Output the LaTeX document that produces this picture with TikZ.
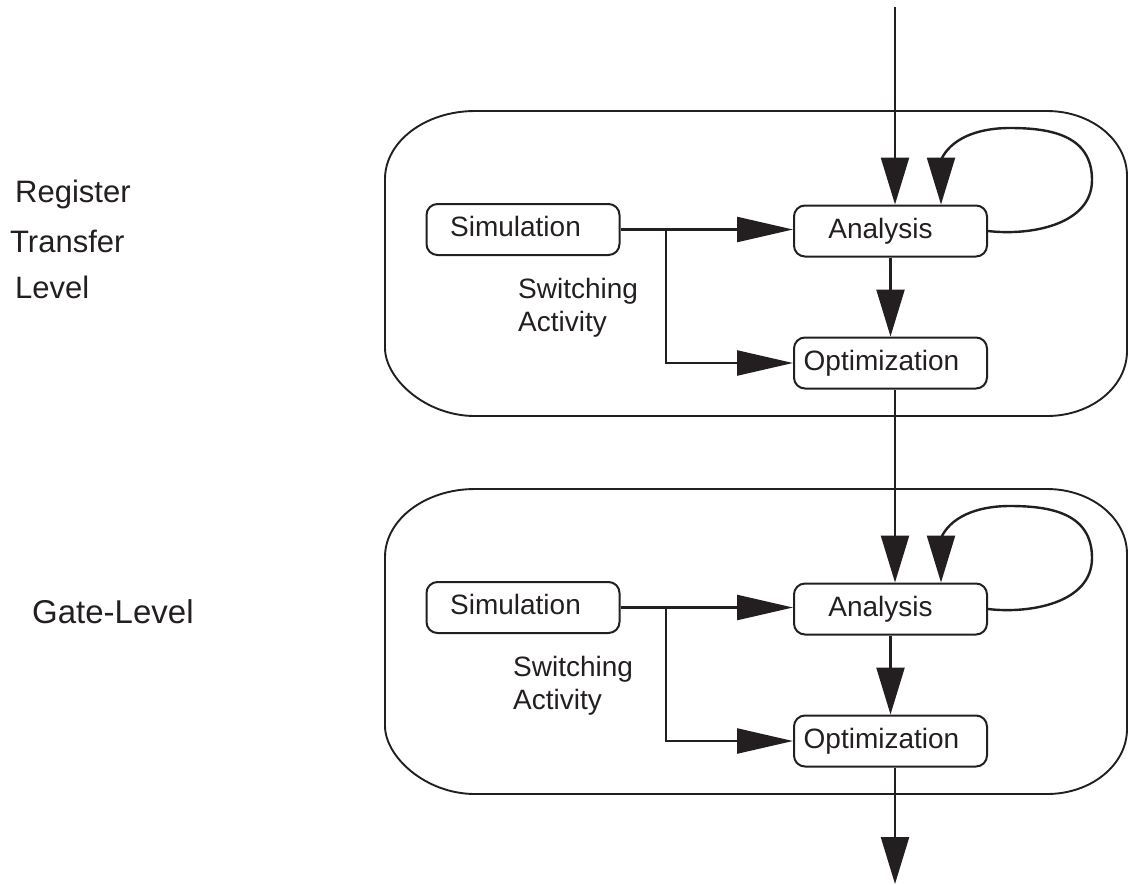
\documentclass[tikz,border=0pt]{standalone}
\usepackage{fontspec}
\setmainfont{Liberation Sans}
\usetikzlibrary{arrows.meta}
\definecolor{ink}{HTML}{231F20}

\begin{document}
\begin{tikzpicture}[x=1pt,y=-1pt, color=ink,
  stage/.style={draw, line width=2pt, rounded corners=11pt, minimum width=193pt,
                minimum height=51pt, inner sep=0pt, text height=20pt, text depth=6pt,
                font=\fontsize{28}{30}\selectfont},
  frame/.style={draw, line width=1.9pt},
  flow/.style={line width=2.4pt},
  vhead/.style={-{Triangle[length=47pt,width=28pt]}},
  hhead/.style={-{Triangle[length=56pt,width=25pt]}},
  note/.style={anchor=base west, inner sep=0pt, font=\fontsize{28}{30}\selectfont},
  level/.style={anchor=base west, inner sep=0pt, font=\fontsize{31}{34}\selectfont}]

\useasboundingbox (0,0) rectangle (1129,884);

% entry and exit points of the flow
\coordinate (in) at (895,7);
\coordinate (out) at (895,884);

\foreach \lv/\dy/\sx in {1/0/518, 2/378/513}{
  % level frame with elliptic corners
  \draw[frame] (475,{111+\dy}) -- (1047,{111+\dy})
     .. controls (1091.2,{111+\dy}) and (1127,{140.1+\dy}) .. (1127,{176+\dy})
     -- (1127,{351+\dy})
     .. controls (1127,{386.9+\dy}) and (1091.2,{416+\dy}) .. (1047,{416+\dy})
     -- (475,{416+\dy})
     .. controls (425.3,{416+\dy}) and (385,{378.5+\dy}) .. (385,{348+\dy})
     -- (385,{179+\dy})
     .. controls (385,{141.5+\dy}) and (425.3,{111+\dy}) .. (475,{111+\dy}) -- cycle;

  % tool boxes
  \node[stage] (sim\lv) at (523,{229.5+\dy}) {\hspace*{-15pt}Simulation};
  \node[stage] (an\lv)  at (890.5,{231+\dy}) {\hspace*{-20pt}Analysis};
  \node[stage] (op\lv)  at (890.5,{363+\dy}) {\hspace*{-18pt}Optimization};

  \node[note] (sw\lv) at (\sx,{298+\dy}) {Switching};
  \node[note] (ac\lv) at (\sx,{331+\dy}) {Activity};

  % switching activity feeds analysis and optimization
  \coordinate (br\lv) at (666,{229.5+\dy});
  \draw[flow,hhead] (sim\lv.east) -- (sim\lv.east -| an\lv.west);
  \draw[flow,hhead] (br\lv) |- (op\lv.west);
  \draw[flow,vhead] (an\lv.south) -- (op\lv.north);

  % iteration loop on the analysis step
  \coordinate (lp\lv) at (941,{160+\dy});
  \draw[flow,vhead] (an\lv.east)
     .. controls (1030,{236+\dy}) and (1092,{225+\dy}) .. (1092,{180+\dy})
     .. controls (1092,{135+\dy}) and (1050,{128+\dy}) .. (1010,{128+\dy})
     .. controls (975,{128+\dy}) and (950,{140+\dy}) .. (lp\lv)
     -- (lp\lv |- an\lv.north);
}

% vertical flow between the levels
\draw[flow,vhead] (in) -- (in |- an1.north);
\draw[flow,vhead] (op1.south -| in) -- (an2.north -| in);
\draw[flow,vhead] (op2.south -| in) -- (out);

% level names
\node[level] (rt1) at (15,202) {Register};
\node[level] (rt2) at (10,252) {Transfer};
\node[level] (rt3) at (15,298) {Level};
\node[level, font=\fontsize{33}{36}\selectfont] (gl) at (32,623) {Gate-Level};

\end{tikzpicture}
\end{document}
